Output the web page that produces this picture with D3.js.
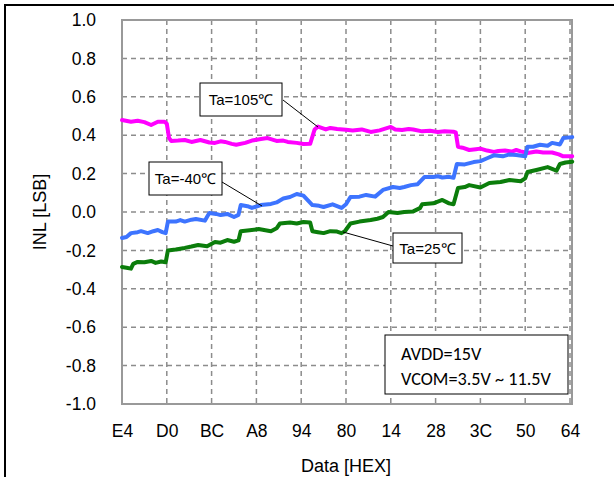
<!DOCTYPE html>
<html>
<head>
<meta charset="utf-8">
<script src="https://cdn.jsdelivr.net/npm/d3@7/dist/d3.min.js"></script>
<style>
  html, body { margin: 0; padding: 0; background: #fff; }
  svg { display: block; }
</style>
</head>
<body>
<svg id="chart" width="614" height="477"></svg>
<script>
// ---- Data ----
const xTickLabels = ["E4", "D0", "BC", "A8", "94", "80", "14", "28", "3C", "50", "64"];
const yTicks = [1.0, 0.8, 0.6, 0.4, 0.2, 0.0, -0.2, -0.4, -0.6, -0.8, -1.0];
// x = code offset from E4 (20 codes per axis label step)
const ta105 = [[0,0.479],[4,0.47],[7,0.475],[10,0.468],[13,0.453],[16,0.47],[19,0.47],[20,0.46],[21,0.385],[22,0.37],[25,0.372],[28,0.375],[31,0.365],[33,0.37],[35,0.375],[39,0.362],[41.5,0.36],[44,0.368],[46,0.365],[49,0.355],[51,0.35],[55,0.36],[58,0.372],[62,0.38],[65,0.385],[69,0.37],[72,0.372],[74,0.365],[78,0.36],[81,0.354],[84,0.355],[86,0.43],[87.5,0.445],[91,0.43],[93,0.438],[96,0.432],[100,0.428],[103,0.425],[107,0.43],[111,0.417],[115,0.425],[120,0.443],[122,0.43],[125,0.427],[128,0.432],[130,0.43],[134,0.42],[137.5,0.423],[141,0.417],[144,0.42],[148,0.418],[149,0.415],[150,0.34],[152,0.335],[155,0.323],[158,0.327],[160,0.33],[163,0.32],[166,0.313],[168,0.318],[171,0.32],[174,0.315],[176,0.323],[178,0.316],[181,0.307],[185,0.315],[188,0.31],[190,0.31],[192,0.31],[195,0.3],[197,0.29],[201,0.29]];
const taM40 = [[0,-0.135],[2,-0.13],[4,-0.11],[7,-0.105],[8.5,-0.1],[11.5,-0.11],[14,-0.1],[16,-0.094],[18,-0.105],[19.5,-0.11],[20.5,-0.05],[24,-0.05],[26,-0.042],[28,-0.05],[31,-0.04],[33,-0.036],[37,-0.045],[38,-0.025],[39,-0.005],[42,-0.01],[44,-0.016],[47,-0.01],[50,-0.026],[52,-0.015],[53,0.036],[56,0.03],[58,0.021],[62,0.036],[66.5,0.042],[69,0.05],[72,0.07],[75,0.078],[78,0.094],[81,0.085],[83,0.06],[85,0.036],[88,0.032],[90,0.026],[94,0.04],[98,0.021],[100,0.04],[102,0.078],[106,0.08],[109,0.089],[113,0.08],[116.5,0.115],[121,0.13],[124,0.125],[126,0.13],[129,0.14],[132,0.145],[135,0.182],[139,0.182],[141,0.186],[143,0.18],[146,0.183],[148,0.178],[149.5,0.25],[153,0.248],[157,0.26],[160,0.265],[163,0.28],[166,0.295],[170,0.29],[173,0.3],[176,0.297],[180,0.29],[181,0.34],[183.5,0.34],[186.6,0.35],[190,0.345],[192,0.36],[195.5,0.352],[197,0.385],[201,0.39]];
const ta25 = [[0,-0.286],[2,-0.29],[4,-0.295],[5,-0.27],[7,-0.26],[10,-0.262],[13,-0.255],[15,-0.265],[17.5,-0.258],[19.5,-0.262],[20.5,-0.2],[24,-0.195],[28,-0.187],[31,-0.18],[34,-0.172],[38,-0.178],[41.5,-0.156],[44,-0.16],[47,-0.146],[50,-0.155],[52,-0.148],[53,-0.1],[57,-0.095],[61,-0.089],[64,-0.095],[66.5,-0.1],[69,-0.085],[70.5,-0.06],[75,-0.055],[78,-0.06],[81,-0.052],[84,-0.055],[85,-0.1],[87.5,-0.105],[90,-0.11],[93,-0.1],[96,-0.102],[98,-0.11],[99.5,-0.1],[102,-0.06],[106,-0.05],[111,-0.042],[114,-0.035],[116.5,-0.026],[119,0.0],[123,-0.005],[126,0.0],[130,0.003],[133,0.02],[134,0.04],[139,0.045],[143,0.063],[146,0.045],[148,0.04],[150,0.125],[153,0.13],[155,0.14],[160,0.128],[164,0.151],[169,0.156],[173,0.167],[178,0.16],[180,0.175],[181,0.208],[185,0.219],[190,0.234],[192,0.225],[194,0.215],[195.5,0.25],[198,0.258],[201,0.262]];
const seriesNames = ["Ta=105℃", "Ta=-40℃", "Ta=25℃"];
const seriesColors = ["#ff00ff", "#3d74ff", "#0b7d0b"];
const noteLines = ["AVDD=15V", "VCOM=3.5V ~ 11.5V"];

// ---- Layout ----
const svg = d3.select("#chart");
const L = 122, R = 570, T = 20, B = 404, plotRight = 572;
const x = d3.scaleLinear().domain([0, 200]).range([L, R]);
const y = d3.scaleLinear().domain([-1, 1]).range([B, T]);
const sans = "Liberation Sans, Arial, sans-serif";

// outer frame
svg.append("rect").attr("x", 5).attr("y", 5).attr("width", 800).attr("height", 800)
  .attr("fill", "none").attr("stroke", "#000").attr("stroke-width", 2);

// grid
const grid = svg.append("g");
yTicks.filter(v => v > -1 && v < 1).forEach(v => {
  grid.append("line").attr("x1", L).attr("x2", plotRight).attr("y1", y(v)).attr("y2", y(v))
    .attr("stroke", "#8c8c8c").attr("stroke-width", 1.5).attr("stroke-dasharray", "5,4");
});
xTickLabels.forEach((t, i) => {
  if (i === 0) return;
  grid.append("line").attr("x1", x(i * 20)).attr("x2", x(i * 20)).attr("y1", T).attr("y2", B)
    .attr("stroke", "#8c8c8c").attr("stroke-width", 1.5).attr("stroke-dasharray", "5,4");
});

// plot border
svg.append("rect").attr("x", L).attr("y", T).attr("width", plotRight - L).attr("height", B - T)
  .attr("fill", "none").attr("stroke", "#999").attr("stroke-width", 2);

// axes (labels only)
const yAxis = d3.axisLeft(y).tickValues(yTicks).tickSize(0).tickPadding(0).tickFormat(d3.format(".1f"));
const gy = svg.append("g").attr("transform", `translate(${96},0)`).call(yAxis);
gy.select(".domain").remove();
gy.selectAll("text").attr("font-family", sans).attr("font-size", 17.5).attr("fill", "#000")
  .text(d => d3.format(".1f")(d).replace("−", "-"));

const xBand = d3.scaleLinear().domain([0, 10]).range([L, R]);
const xAxis = d3.axisBottom(xBand).tickValues(d3.range(0, 11)).tickSize(0).tickPadding(0).tickFormat(i => xTickLabels[i]);
const gx = svg.append("g").attr("transform", `translate(0,${425})`).call(xAxis);
gx.select(".domain").remove();
gx.selectAll("text").attr("font-family", sans).attr("font-size", 17.5).attr("fill", "#000");

// axis titles
svg.append("text").attr("transform", `translate(46,212) rotate(-90)`).attr("text-anchor", "middle")
  .attr("font-family", sans).attr("font-size", 18).text("INL [LSB]");
svg.append("text").attr("x", 346).attr("y", 472).attr("text-anchor", "middle")
  .attr("font-family", sans).attr("font-size", 18).text("Data [HEX]");

// lines
const line = d3.line().x(d => x(d[0])).y(d => y(d[1]));
[ta105, taM40, ta25].forEach((s, i) => {
  svg.append("path").datum(s).attr("d", line).attr("fill", "none")
    .attr("stroke", seriesColors[i]).attr("stroke-width", 4)
    .attr("stroke-linejoin", "round").attr("stroke-linecap", "round");
});

// callouts
const callouts = [
  { box: [200, 83, 82, 33], from: [283, 100], to: [318, 127] },
  { box: [149, 162, 73, 33], from: [222, 182], to: [262, 206] },
  { box: [393, 233, 69, 30], from: [393, 246], to: [343, 232] }
];
callouts.forEach((c, i) => {
  svg.append("line").attr("x1", c.from[0]).attr("y1", c.from[1]).attr("x2", c.to[0]).attr("y2", c.to[1])
    .attr("stroke", "#000").attr("stroke-width", 1);
  svg.append("rect").attr("x", c.box[0]).attr("y", c.box[1]).attr("width", c.box[2]).attr("height", c.box[3])
    .attr("fill", "#fff").attr("stroke", "#000").attr("stroke-width", 1);
  svg.append("text").attr("x", c.box[0] + c.box[2] / 2).attr("y", c.box[1] + c.box[3] / 2 + 5.5)
    .attr("text-anchor", "middle").attr("font-family", sans)
    .attr("font-size", 15).text(seriesNames[i]);
});

// condition note
svg.append("rect").attr("x", 385).attr("y", 335).attr("width", 183).attr("height", 59)
  .attr("fill", "#fff").attr("stroke", "#000").attr("stroke-width", 1);
const noteTexts = noteLines.map((t, i) => svg.append("text").attr("x", 401).attr("y", 360 + i * 25)
    .attr("font-family", "Carlito, Calibri, Lato, sans-serif").attr("font-size", 16).text(t));
// scale font so the long line spans about 150px, as in the reference
const w = noteTexts[1].node().getComputedTextLength();
if (w > 0) noteTexts.forEach(t => t.attr("font-size", Math.min(19, 16 * 150 / w)));
</script>
</body>
</html>
